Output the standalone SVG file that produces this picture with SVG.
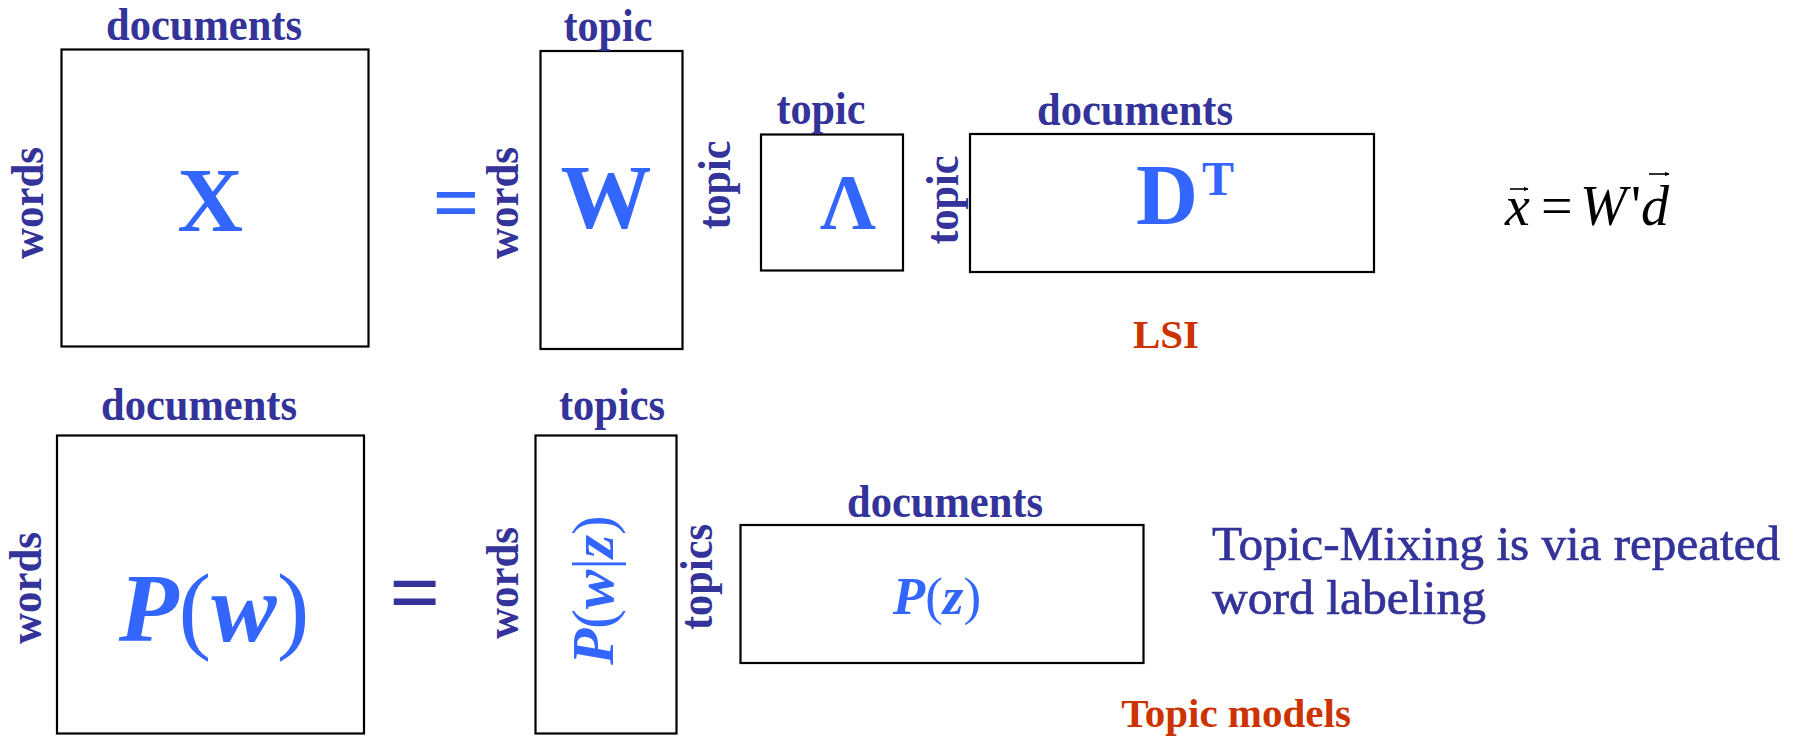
<svg xmlns="http://www.w3.org/2000/svg" width="1817" height="736" viewBox="0 0 1817 736">
  <defs>
    <style>
      .box { fill: none; stroke: #000; stroke-width: 2.2; }
      .lbl { font-family: "Liberation Serif", "Times New Roman", serif; font-weight: bold; font-size: 46px; fill: #333399; text-anchor: middle; }
      .sym { font-family: "Liberation Serif", "Times New Roman", serif; font-weight: bold; fill: #3366FF; text-anchor: middle; }
      .it { font-style: italic; }
      .up { font-style: normal; font-weight: normal; }
      .red { fill: #CC3300; }
      .note { font-family: "Liberation Serif", "Times New Roman", serif; font-size: 48px; fill: #333399; stroke: #333399; stroke-width: 0.7; }
      .eq { font-family: "Liberation Serif", "Times New Roman", serif; font-size: 56px; fill: #000; }
      .vec { stroke: #000; stroke-width: 1.6; fill: none; }
    </style>
    <marker id="vhead" viewBox="0 0 10 10" refX="9" refY="5" markerWidth="5" markerHeight="5" markerUnits="userSpaceOnUse" orient="auto">
      <path d="M0,0 L10,5 L0,10 z" fill="#000"/>
    </marker>
  </defs>
  <rect width="1817" height="736" fill="#fff"/>

  <!-- ===== LSI factorisation (top row) ===== -->
  <g id="matrix-x">
    <rect class="box" x="61.5" y="49.5" width="307" height="297"/>
    <text class="lbl" x="204" y="40" textLength="196" lengthAdjust="spacingAndGlyphs">documents</text>
    <text class="lbl" transform="translate(43,203) rotate(-90)" textLength="112" lengthAdjust="spacingAndGlyphs">words</text>
    <text class="sym" x="210" y="231" font-size="91">X</text>
  </g>

  <g id="equals-top">
    <text class="sym" x="456" y="230" font-size="82">=</text>
  </g>

  <g id="matrix-w">
    <rect class="box" x="540.5" y="51" width="142" height="298"/>
    <text class="lbl" x="608" y="41" textLength="89" lengthAdjust="spacingAndGlyphs">topic</text>
    <text class="lbl" transform="translate(518,203) rotate(-90)" textLength="112" lengthAdjust="spacingAndGlyphs">words</text>
    <text class="sym" x="606" y="228" font-size="91">W</text>
  </g>

  <g id="matrix-lambda">
    <rect class="box" x="761" y="134.5" width="142" height="136"/>
    <text class="lbl" x="821" y="124" textLength="89" lengthAdjust="spacingAndGlyphs">topic</text>
    <text class="lbl" transform="translate(730,185) rotate(-90)" textLength="89" lengthAdjust="spacingAndGlyphs">topic</text>
    <text class="sym" x="848" y="228" font-size="78" font-weight="normal">Λ</text>
  </g>

  <g id="matrix-dt">
    <rect class="box" x="970" y="134" width="404" height="138"/>
    <text class="lbl" x="1135" y="125" textLength="196" lengthAdjust="spacingAndGlyphs">documents</text>
    <text class="lbl" transform="translate(958,200) rotate(-90)" textLength="89" lengthAdjust="spacingAndGlyphs">topic</text>
    <text class="sym" x="1167" y="224" font-size="86">D</text>
    <text class="sym" x="1218" y="195" font-size="48" font-weight="normal">T</text>
  </g>

  <g id="caption-lsi">
    <text class="lbl red" x="1166" y="348" style="font-size:41px">LSI</text>
  </g>

  <g id="formula">
    <text class="eq it" x="1505" y="225">x</text>
    <text class="eq" x="1541" y="225">=</text>
    <text class="eq it" x="1580" y="225">W</text>
    <text class="eq" x="1631" y="225">'</text>
    <text class="eq it" x="1641" y="225">d</text>
    <line class="vec" x1="1510" y1="189" x2="1528" y2="189" marker-end="url(#vhead)"/>
    <line class="vec" x1="1649" y1="174" x2="1669" y2="174" marker-end="url(#vhead)"/>
  </g>

  <!-- ===== Topic model factorisation (bottom row) ===== -->
  <g id="matrix-pw">
    <rect class="box" x="57" y="435.5" width="307" height="298"/>
    <text class="lbl" x="199" y="420" textLength="196" lengthAdjust="spacingAndGlyphs">documents</text>
    <text class="lbl" transform="translate(41,588) rotate(-90)" textLength="112" lengthAdjust="spacingAndGlyphs">words</text>
    <text class="sym" x="214" y="641" font-size="98"><tspan class="it">P</tspan><tspan class="up">(</tspan><tspan class="it">w</tspan><tspan class="up">)</tspan></text>
  </g>

  <g id="equals-bottom">
    <text class="lbl" x="415" y="623" style="font-size:90px">=</text>
  </g>

  <g id="matrix-pwz">
    <rect class="box" x="535.5" y="435.5" width="141" height="298"/>
    <text class="lbl" x="612" y="420" textLength="106" lengthAdjust="spacingAndGlyphs">topics</text>
    <text class="lbl" transform="translate(518,583) rotate(-90)" textLength="112" lengthAdjust="spacingAndGlyphs">words</text>
    <text class="sym" transform="translate(613,590) rotate(-90)" font-size="59"><tspan class="it">P</tspan><tspan class="up">(</tspan><tspan class="it">w</tspan><tspan class="up">|</tspan><tspan class="it">z</tspan><tspan class="up">)</tspan></text>
  </g>

  <g id="matrix-pz">
    <rect class="box" x="740.5" y="525" width="403" height="138"/>
    <text class="lbl" x="945" y="517" textLength="196" lengthAdjust="spacingAndGlyphs">documents</text>
    <text class="lbl" transform="translate(712,577) rotate(-90)" textLength="106" lengthAdjust="spacingAndGlyphs">topics</text>
    <text class="sym" x="937" y="614" font-size="53"><tspan class="it">P</tspan><tspan class="up">(</tspan><tspan class="it">z</tspan><tspan class="up">)</tspan></text>
  </g>

  <g id="note-mixing">
    <text class="note" x="1212" y="560" textLength="568" lengthAdjust="spacingAndGlyphs">Topic-Mixing is via repeated</text>
    <text class="note" x="1212" y="614" textLength="274" lengthAdjust="spacingAndGlyphs">word labeling</text>
  </g>

  <g id="caption-topic-models">
    <text class="lbl red" x="1236" y="727" style="font-size:41px">Topic models</text>
  </g>
</svg>
